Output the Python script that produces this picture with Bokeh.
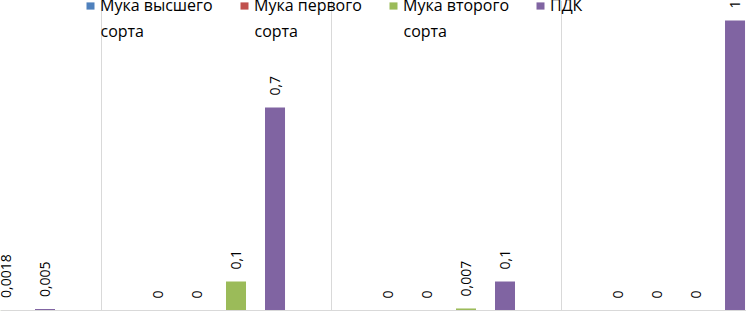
import numpy as np
from bokeh.plotting import figure
from bokeh.models import (ColumnDataSource, Range1d, FixedTicker, Span, Legend,
                          LegendItem, LabelSet, Label)
from bokeh.core.properties import value
from bokeh.embed import file_html
from bokeh.resources import INLINE

# ---- data ----
groups = [0, 1, 2, 3]
series_line1 = ["Мука высшего", "Мука первого", "Мука второго", "ПДК"]
series_line2 = ["сорта", "сорта", "сорта", ""]
series_colors = ["#4F81BD", "#C0504D", "#9BBB59", "#8064A2"]
nan = float("nan")
flour_top = [nan, 0, 0, 0]      # first group value is outside the visible crop
flour_first = [nan, 0, 0, 0]    # first group value is outside the visible crop
flour_second = [0.0018, 0.1, 0.007, 0]
pdk = [0.005, 0.7, 0.1, 1]
series_values = [flour_top, flour_first, flour_second, pdk]

def fmt(v):
    if v != v:
        return ""
    return ("%g" % v).replace(".", ",")

W, H = 746, 311
p = figure(width=W, height=H, output_backend="svg", toolbar_location=None,
           x_range=Range1d(0.0609, 3.3043), y_range=Range1d(-0.00345, 1.069),
           min_border=0, min_border_left=0, min_border_right=0,
           min_border_top=0, min_border_bottom=0)
p.xaxis.visible = False
p.yaxis.visible = False
p.outline_line_color = None
p.ygrid.visible = False
p.xgrid.ticker = FixedTicker(ticks=[0.5, 1.5, 2.5])
p.xgrid.grid_line_color = "#d9d9d9"
p.xgrid.grid_line_width = 1
p.add_layout(Span(location=0, dimension="width", line_color="#d9d9d9", line_width=1))

step = 0.1696
bw = 0.087
renderers = []
for i, (col, vals) in enumerate(zip(series_colors, series_values)):
    xs = np.array(groups, dtype=float) + (i - 1.5) * step
    tops = [0 if v != v else v for v in vals]
    src = ColumnDataSource(dict(x=xs, top=tops, lab=[fmt(v) for v in vals]))
    r = p.vbar(x="x", top="top", width=bw, bottom=0, source=src,
               fill_color=col, line_color=None)
    renderers.append(r)
    p.add_layout(LabelSet(x="x", y="top", text="lab", source=src, angle=np.pi / 2,
                          text_align="left", text_baseline="middle", y_offset=12,
                          text_font=value("Open Sans"), text_font_size="14px",
                          text_color="black"))

# legend: one small legend per series, placed along the top
leg_x = [85, 239, 388, 535]
for r, l1, l2, lx in zip(renderers, series_line1, series_line2, leg_x):
    leg = Legend(items=[LegendItem(label=l1, renderers=[r])], orientation="horizontal",
                 location=(lx, H - 16), padding=0, margin=0, label_standoff=5,
                 glyph_width=10, glyph_height=9, label_height=20,
                 label_text_font="Open Sans", label_text_font_size="16px",
                 label_text_color="black",
                 border_line_color=None, background_fill_alpha=0)
    p.add_layout(leg)
    if l2:
        p.add_layout(Label(x=lx + 15, y=H - 30, x_units="screen", y_units="screen",
                           text=l2, text_font="Open Sans", text_font_size="16px",
                           text_baseline="alphabetic", text_align="left",
                           text_color="black"))

open("out.html", "w").write(file_html(p, INLINE))
